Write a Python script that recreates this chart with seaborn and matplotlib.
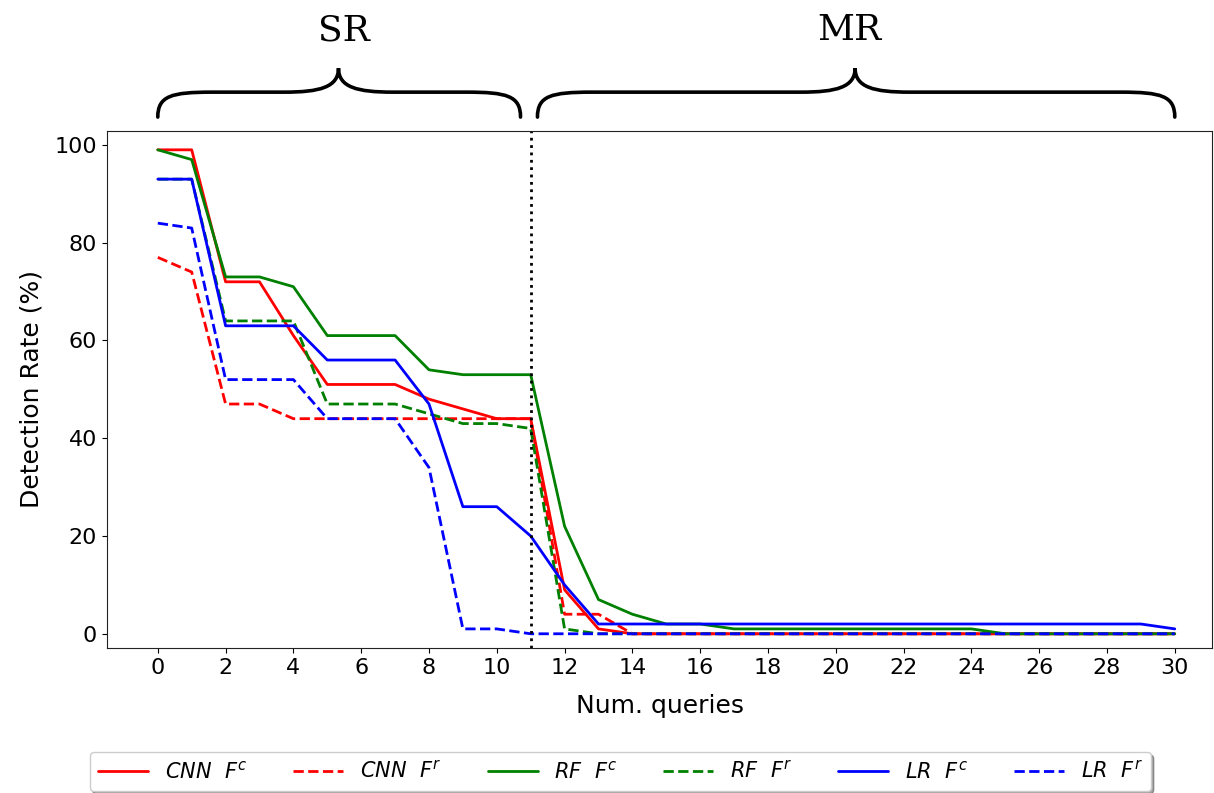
import numpy as np
import pandas as pd
import matplotlib
matplotlib.use('Agg')
import matplotlib.pyplot as plt
from matplotlib.path import Path
from matplotlib.patches import PathPatch
import seaborn as sns

# ── Data ──────────────────────────────────────────────────────────────────────
queries = list(range(31))

cnn_fc = [99, 99, 72, 72, 61, 51, 51, 51, 48, 46, 44, 44, 9, 1] + [0] * 17
cnn_fr = [77, 74, 47, 47, 44, 44, 44, 44, 44, 44, 44, 44, 4, 4] + [0] * 17
rf_fc = [99, 97, 73, 73, 71, 61, 61, 61, 54, 53, 53, 53, 22, 7, 4, 2, 2,
         1, 1, 1, 1, 1, 1, 1, 1] + [0] * 6
rf_fr = [93, 93, 64, 64, 64, 47, 47, 47, 45, 43, 43, 42, 1] + [0] * 18
lr_fc = [93, 93, 63, 63, 63, 56, 56, 56, 47, 26, 26, 20, 10] + [2] * 17 + [1]
lr_fr = [84, 83, 52, 52, 52, 44, 44, 44, 34, 1, 1] + [0] * 20

series = [
    (r'$CNN\ \ F^c$', cnn_fc, 'red', '-'),
    (r'$CNN\ \ F^r$', cnn_fr, 'red', '--'),
    (r'$RF\ \ F^c$', rf_fc, 'green', '-'),
    (r'$RF\ \ F^r$', rf_fr, 'green', '--'),
    (r'$LR\ \ F^c$', lr_fc, 'blue', '-'),
    (r'$LR\ \ F^r$', lr_fr, 'blue', '--'),
]

split_at = 11
regions = ['SR', 'MR']

# ── Plot ──────────────────────────────────────────────────────────────────────
sns.set_style('ticks')
plt.rcParams['font.family'] = ['DejaVu Sans']
plt.rcParams.update({'text.color': 'black', 'axes.labelcolor': 'black',
                     'xtick.color': 'black', 'ytick.color': 'black',
                     'axes.edgecolor': '#222222'})

fig = plt.figure(figsize=(12.14, 7.93), dpi=100)
ax = fig.add_axes([0.0881, 0.1829, 0.9103, 0.6519])

for label, vals, color, ls in series:
    df = pd.DataFrame({'q': queries, 'rate': vals})
    sns.lineplot(data=df, x='q', y='rate', color=color, linestyle=ls,
                 linewidth=2, label=label, ax=ax, legend=False)

ax.axvline(split_at, color='black', linestyle=':', linewidth=2)

ax.set_xlim(-1.5, 31.1)
ax.set_ylim(-2.9, 102.85)
ax.set_xticks(range(0, 31, 2))
ax.set_yticks(range(0, 101, 20))
ax.tick_params(labelsize=16)
ax.set_xlabel('Num. queries', fontsize=18, labelpad=12)
ax.set_ylabel('Detection Rate (%)', fontsize=18, labelpad=8)
for sp in ax.spines.values():
    sp.set_visible(True)


def brace(ax, x0, x1, xc, yt=105.7, yb=110.8, yc=115.7, r=1.6):
    verts = [
        (x0, yt), (x0, yt + 0.85 * (yb - yt)), (x0 + 0.25 * r, yb), (x0 + r, yb),
        (xc - r, yb),
        (xc - 0.35 * r, yb), (xc, yb + 0.2 * (yc - yb)), (xc, yc),
        (xc, yb + 0.2 * (yc - yb)), (xc + 0.35 * r, yb), (xc + r, yb),
        (x1 - r, yb),
        (x1 - 0.25 * r, yb), (x1, yt + 0.85 * (yb - yt)), (x1, yt),
    ]
    codes = ([Path.MOVETO] + [Path.CURVE4] * 3 + [Path.LINETO] +
             [Path.CURVE4] * 6 + [Path.LINETO] + [Path.CURVE4] * 3)
    patch = PathPatch(Path(verts, codes), facecolor='none', edgecolor='black',
                      linewidth=2.6, clip_on=False, capstyle='round')
    ax.add_patch(patch)


brace(ax, 0, 10.7, 5.33)
brace(ax, 11.2, 30.0, 20.57)
ax.text(5.5, 123.5, regions[0], fontsize=26, family='DejaVu Serif',
        ha='center', va='center', clip_on=False)
ax.text(20.4, 123.5, regions[1], fontsize=26, family='DejaVu Serif',
        ha='center', va='center', clip_on=False)

handles, labels = ax.get_legend_handles_labels()
fig.legend(handles, labels, loc='center', bbox_to_anchor=(0.511, 0.027),
           ncol=6, fontsize=15, frameon=True, shadow=True, fancybox=True,
           handlelength=2.4, columnspacing=2.2)

fig.savefig('out.png', dpi=100)
